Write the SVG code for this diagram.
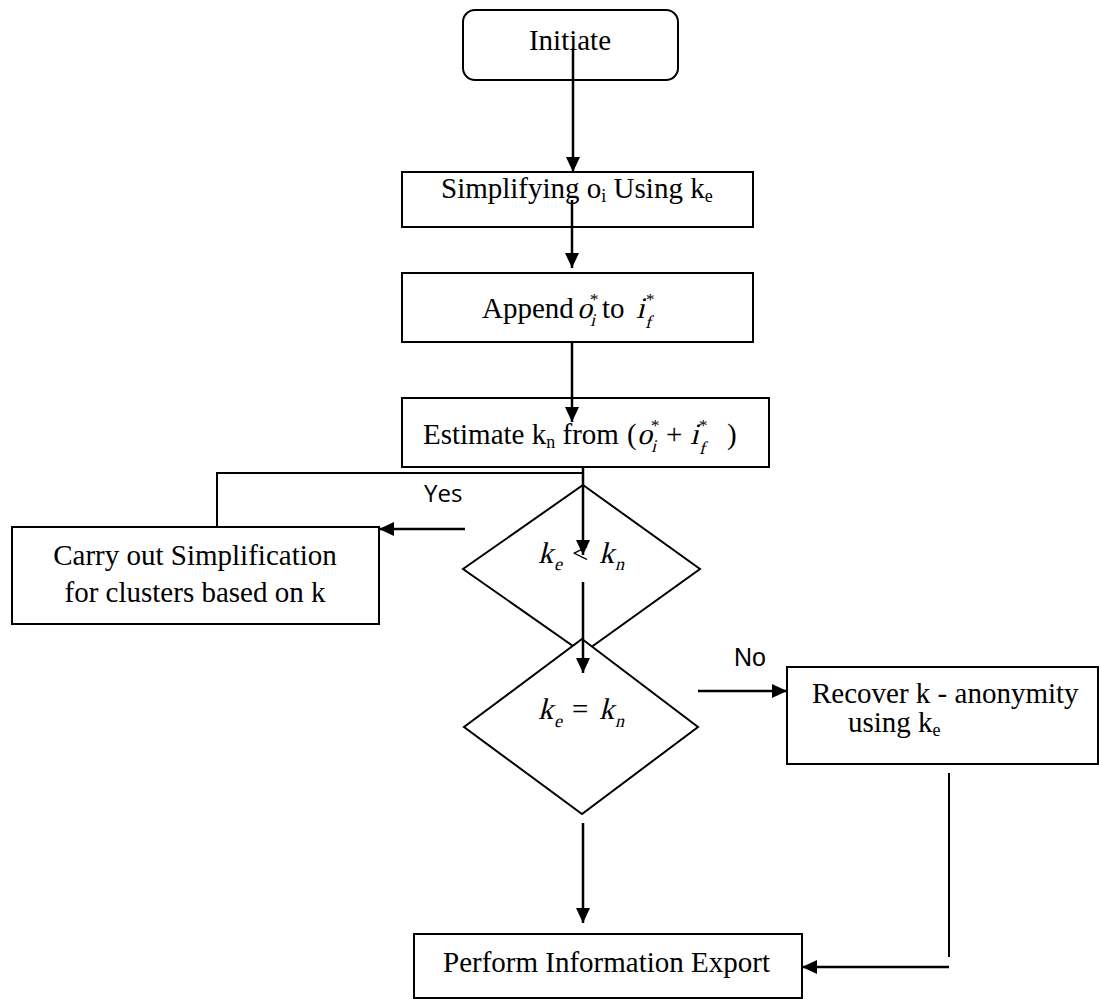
<svg xmlns="http://www.w3.org/2000/svg" width="1099" height="999" viewBox="0 0 1099 999">
<defs>
<marker id="ah" viewBox="0 0 15 14" refX="15" refY="7" markerWidth="15" markerHeight="14" markerUnits="userSpaceOnUse" orient="auto">
<path d="M0,0 L15,7 L0,14 Z" fill="#000"/>
</marker>
<style>
.box{fill:#fff;stroke:#000;stroke-width:2}
.t{font-family:"Liberation Serif","Times New Roman",serif;font-size:29px;fill:#000}
.m{font-family:"Liberation Serif","Times New Roman",serif;font-size:30px;fill:#000}
.ms{font-family:"Liberation Serif","Times New Roman",serif;font-size:18px;fill:#000}
.st{font-family:"Liberation Serif","Times New Roman",serif;font-size:17px;fill:#000}
.s{font-family:"Open Sans","Liberation Sans",sans-serif;font-size:24px;fill:#000}
.a{font-family:"Liberation Sans",Arial,sans-serif;font-size:25px;fill:#000}
.c{fill:none;stroke:#000;stroke-width:2}
.c2{fill:none;stroke:#000;stroke-width:2.5}
</style>
</defs>
<rect width="1099" height="999" fill="#fff"/>

<g id="n-initiate">
<rect class="box" x="463" y="10" width="215" height="70" rx="12"/>
<text class="t" x="570" y="50" text-anchor="middle">Initiate</text>
</g>

<g id="n-simplify">
<rect class="box" x="402" y="172" width="351" height="55"/>
<text class="t" x="441" y="198">Simplifying o<tspan font-size="18" dy="4">i</tspan><tspan dy="-4"> Using k</tspan><tspan font-size="18" dy="4">e</tspan></text>
</g>

<g id="n-append">
<rect class="box" x="402" y="273" width="351" height="69"/>
<text class="t" x="482" y="318">Append</text>
<text class="m" transform="translate(577,318) skewX(-14)">o</text>
<text class="st" x="590" y="305">*</text>
<text class="ms" transform="translate(590,326) skewX(-14)">i</text>
<text class="t" x="602" y="318">to</text>
<text class="m" transform="translate(636,318) skewX(-14)">i</text>
<text class="st" x="646" y="305">*</text>
<text class="ms" transform="translate(645,328) skewX(-14)">f</text>
</g>

<g id="n-estimate">
<rect class="box" x="402" y="398" width="367" height="69"/>
<text class="t" x="423" y="444">Estimate k<tspan font-size="18" dy="4">n</tspan><tspan dy="-4"> from</tspan></text>
<text class="t" x="627" y="444">(</text>
<text class="m" transform="translate(637,444) skewX(-14)">o</text>
<text class="st" x="651" y="431">*</text>
<text class="ms" transform="translate(651,452) skewX(-14)">i</text>
<text class="t" x="666" y="444">+</text>
<text class="m" transform="translate(690,444) skewX(-14)">i</text>
<text class="st" x="699" y="431">*</text>
<text class="ms" transform="translate(699,454) skewX(-14)">f</text>
<text class="t" x="727" y="444">)</text>
</g>

<g id="n-carry">
<rect class="box" x="12" y="527" width="367" height="97"/>
<text class="t" x="195" y="565" text-anchor="middle">Carry out Simplification</text>
<text class="t" x="195" y="602" text-anchor="middle">for clusters based on k</text>
</g>

<g id="n-dec1">
<polygon class="box" points="583,485 700,569 583,653 463,569" fill="none"/>
<text class="m" transform="translate(538,563) skewX(-14)">k</text>
<text class="ms" transform="translate(554,570) skewX(-14)">e</text>
<text class="t" x="572" y="563">&lt;</text>
<text class="m" transform="translate(599,563) skewX(-14)">k</text>
<text class="ms" transform="translate(615,570) skewX(-14)">n</text>
</g>

<g id="n-dec2">
<polygon class="box" points="582,639 698,727 582,814 464,727" fill="none"/>
<text class="m" transform="translate(538,719) skewX(-14)">k</text>
<text class="ms" transform="translate(554,727) skewX(-14)">e</text>
<text class="t" x="572" y="719">=</text>
<text class="m" transform="translate(599,719) skewX(-14)">k</text>
<text class="ms" transform="translate(615,727) skewX(-14)">n</text>
</g>

<g id="n-recover">
<rect class="box" x="787" y="667" width="311" height="97"/>
<text class="t" x="812" y="703">Recover k - anonymity</text>
<text class="t" x="848" y="732">using k<tspan font-size="18" dy="4">e</tspan></text>
</g>

<g id="n-export">
<rect class="box" x="414" y="934" width="388" height="64"/>
<text class="t" x="443" y="972">Perform Information Export</text>
</g>

<g id="connectors">
<line class="c2" x1="573" y1="48" x2="573" y2="172" marker-end="url(#ah)"/>
<line class="c2" x1="572" y1="200" x2="572" y2="268" marker-end="url(#ah)"/>
<line class="c2" x1="572" y1="342" x2="572" y2="422" marker-end="url(#ah)"/>
<line class="c2" x1="583" y1="467" x2="583" y2="555" marker-end="url(#ah)"/>
<polyline class="c" points="583,473 217,473 217,527"/>
<line class="c2" x1="465" y1="529" x2="379" y2="529" marker-end="url(#ah)"/>
<line class="c2" x1="583" y1="582" x2="583" y2="673" marker-end="url(#ah)"/>
<line class="c2" x1="698" y1="691" x2="787" y2="691" marker-end="url(#ah)"/>
<line class="c2" x1="583" y1="823" x2="583" y2="923" marker-end="url(#ah)"/>
<line class="c" x1="949" y1="773" x2="949" y2="957"/>
<line class="c2" x1="949" y1="967" x2="802" y2="967" marker-end="url(#ah)"/>
<text class="s" x="424" y="502">Yes</text>
<text class="a" x="734" y="666">No</text>
</g>
</svg>
